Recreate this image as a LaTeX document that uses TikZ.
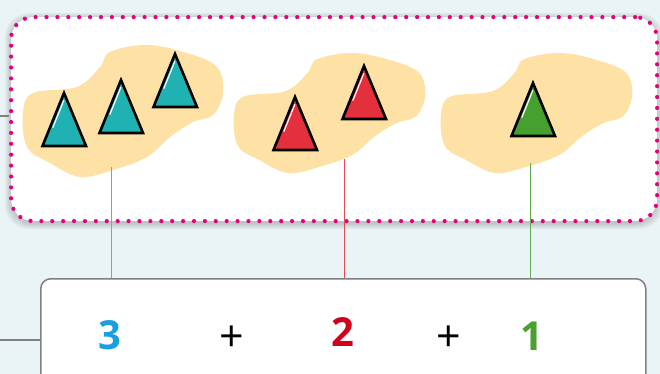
\documentclass[tikz,border=0pt]{standalone}
\usepackage{fontspec}
\setmainfont{Open Sans}
\definecolor{bgc}{HTML}{EAF3F5}
\definecolor{magc}{HTML}{E5007D}
\definecolor{blobc}{HTML}{FEE1A5}
\definecolor{tealc}{HTML}{20B2B3}
\definecolor{redc}{HTML}{E4303D}
\definecolor{greenc}{HTML}{45A030}
\definecolor{numblue}{HTML}{1A9FE0}
\definecolor{numred}{HTML}{D0021B}
\definecolor{numgreen}{HTML}{4CA02F}
\definecolor{lteal}{HTML}{5AB5BD}
\definecolor{lred}{HTML}{E84A55}
\definecolor{lgreen}{HTML}{5FAE4F}
\definecolor{grayc}{HTML}{808080}
\tikzset{
  topbox/.style={draw=magc, fill=white, line width=4.2pt, line cap=round,
    dash pattern=on 0pt off 10.9pt, rounded corners=22pt, anchor=north west,
    minimum width=646pt, minimum height=204pt, inner sep=0pt},
  shadowlayer/.style={fill=black, fill opacity=0.045, rounded corners=24pt},
  botbox/.style={draw=grayc, fill=white, line width=1.5pt, rounded corners=10pt,
    anchor=north west, minimum width=605pt, minimum height=130pt, inner sep=0pt},
  numstyle/.style={font=\fontsize{40}{40}\selectfont\bfseries, inner sep=0pt},
  plusstyle/.style={font=\fontsize{43}{43}\selectfont, inner sep=0pt},
  trishape/.style={draw=black, line width=2.6pt, line join=miter},
  hilite/.style={white, line width=1.2pt, line cap=round},
  graylink/.style={grayc, line width=1.8pt},
  vlink/.style={line width=1pt}
}
\newcommand\drawblob[1]{%
  \fill[blobc,#1] plot[smooth cycle, tension=0.6] coordinates {
    (23,113) (33,93) (77,87) (100,67) (110,52) (147,45) (187,53) (217,67)
    (223,93) (213,115) (193,122) (170,137) (147,157) (113,170) (80,177)
    (50,163) (27,147)};}
\newcommand\tri[3]{%
  \draw[trishape, fill=#3] (#1,#2) -- ++(-21.5,53) -- ++(43.5,0) -- cycle;
  \draw[hilite] (#1,#2) ++(-0.2,7.5) -- ++(-10.9,26.9);}
\begin{document}
\begin{tikzpicture}[x=1pt,y=-1pt]
\fill[bgc] (0,0) rectangle (660,374);
\useasboundingbox (0,0) rectangle (660,374);
% soft shadow of the top box
\foreach \e in {0,1.5,3,4.5,6}{
  \fill[shadowlayer] (9+2-\e,15+4-\e) rectangle (655+2+\e,219+4+\e);
}
% top box
\node[topbox] (top) at (9,15) {};
% blobs
\drawblob{}
\drawblob{shift={(212,12)}, xscale=0.955, yscale=0.91}
\drawblob{shift={(419,12)}, xscale=0.955, yscale=0.91}
% triangles
\tri{64}{93}{tealc}
\tri{121}{80}{tealc}
\tri{175}{54}{tealc}
\tri{295}{97}{redc}
\tri{364}{66}{redc}
\tri{533}{83}{greenc}
% bottom box
\node[botbox] (bot) at (40,278) {};
% links
\coordinate (c1) at (111,167);
\coordinate (c2) at (344.5,159);
\coordinate (c3) at (530,163);
\draw[vlink, lteal] (c1) -- (c1 |- bot.north);
\draw[vlink, lred] (c2) -- (c2 |- bot.north);
\draw[vlink, lgreen] (c3) -- (c3 |- bot.north);
\coordinate (l1) at (0,340);
\coordinate (l2) at (0,116);
\draw[graylink] (l1) -- (l1 -| bot.west);
\draw[graylink] (l2) -- (l2 -| top.west);
% numbers
\node[numstyle, text=numblue] (n3) at (110,335) {3};
\node[plusstyle] (p1) at (232,339) {+};
\node[numstyle, text=numred] (n2) at (343,332) {2};
\node[plusstyle] (p2) at (449,339) {+};
\node[numstyle, text=numgreen] (n1) at (532,336) {1};
\end{tikzpicture}
\end{document}
